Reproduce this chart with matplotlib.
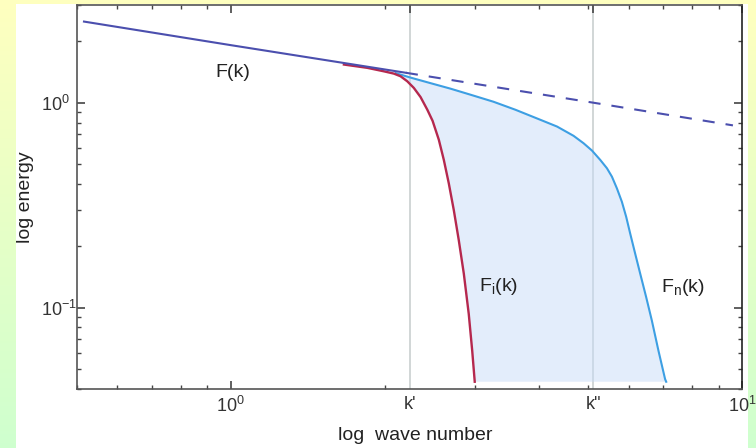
import numpy as np
import matplotlib.pyplot as plt
from matplotlib.patches import Rectangle
from matplotlib.ticker import NullFormatter

plt.rcParams['font.family'] = ['Liberation Sans', 'DejaVu Sans']
plt.rcParams['mathtext.fontset'] = 'custom'
plt.rcParams['mathtext.rm'] = 'Liberation Sans'
plt.rcParams['mathtext.it'] = 'Liberation Sans:italic'
plt.rcParams['mathtext.bf'] = 'Liberation Sans:bold'

# spectrum F(k), solid part and its dashed continuation
F_k = [0.516, 1.0, 2.2]
F_E = [2.49, 1.91, 1.40]
dash_k = [2.2, 5.12, 9.6]
dash_E = [1.40, 1.00, 0.775]

# Fi(k): early cut-off
Fi_k = [1.664, 1.849, 1.993, 2.084, 2.148, 2.214, 2.280, 2.350, 2.423, 2.481,
        2.552, 2.610, 2.669, 2.730, 2.792, 2.856, 2.920, 2.966, 3.00]
Fi_E = [1.536, 1.480, 1.423, 1.387, 1.346, 1.272, 1.181, 1.066, 0.924, 0.816,
        0.659, 0.5255, 0.404, 0.2988, 0.213, 0.1463, 0.0931, 0.0615, 0.0434]

# Fn(k): late cut-off
Fn_k = [2.101, 2.247, 2.458, 2.69, 2.944, 3.264, 3.603, 4.033, 4.346, 4.683,
        4.898, 5.087, 5.281, 5.442, 5.566, 5.692, 5.821, 5.935, 6.043, 6.180,
        6.322, 6.494, 6.662, 6.864, 7.072, 7.107]
Fn_E = [1.395, 1.326, 1.246, 1.171, 1.094, 1.011, 0.924, 0.825, 0.765, 0.689,
        0.634, 0.584, 0.5255, 0.4786, 0.4353, 0.3817, 0.3283, 0.2772, 0.2297,
        0.1833, 0.1463, 0.1124, 0.0864, 0.0615, 0.0447, 0.0434]

k1 = 2.24   # k'
k2 = 5.12   # k''

fig = plt.figure(figsize=(7.56, 4.48), dpi=100)

# gradient background + white panel
bg = fig.add_axes([0, 0, 1, 1], zorder=-2)
t = np.linspace(0, 1, 256)[:, None, None]
top = np.array([1.0, 1.0, 0.75])
bot = np.array([0.81, 1.0, 0.81])
img = top * (1 - t) + bot * t
img = np.repeat(img, 2, axis=1)
bg.imshow(img, aspect='auto', extent=[0, 1, 0, 1], origin='upper')
bg.add_patch(Rectangle((16 / 756, 0), 732 / 756, 444 / 448, facecolor='white',
                       edgecolor='none', transform=bg.transAxes, zorder=2))
bg.set_xlim(0, 1)
bg.set_ylim(0, 1)
bg.axis('off')

ax = fig.add_axes([77 / 756, 1 - 389 / 448, 665 / 756, 384 / 448])
ax.set_facecolor('none')
ax.set_xscale('log')
ax.set_yscale('log')
ax.set_xlim(0.5, 10)
ax.set_ylim(0.04, 3)

# shaded band between the two cut-off curves
fill_k = Fn_k + Fi_k[3:][::-1]
fill_E = Fn_E + Fi_E[3:][::-1]
ax.fill(fill_k, fill_E, facecolor='#c8dcf8', alpha=0.5, edgecolor='none', zorder=2)

ax.axvline(k1, color='#c9cfd0', lw=1.2, zorder=1)
ax.axvline(k2, color='#c9cfd0', lw=1.2, zorder=1)

ax.plot(Fn_k, Fn_E, color='#3d9fe3', lw=1.5, zorder=3)
ax.plot(Fi_k, Fi_E, color='#b5284e', lw=1.7, zorder=4)
ax.plot(dash_k, dash_E, color='#4b4fae', lw=1.5, dashes=(5.8, 5.3), zorder=5)
ax.plot(F_k, F_E, color='#4b4fae', lw=1.5, zorder=5)

ax.text(1.01, 1.40, 'F(k)', ha='center', va='center', fontsize=14, color='#222')
ax.text(3.34, 0.127, r'F$_{\mathregular{i}}$(k)', ha='center', va='center',
        fontsize=14, color='#222')
ax.text(7.67, 0.125, r'F$_{\mathregular{n}}$(k)', ha='center', va='center',
        fontsize=14, color='#222')

ax.set_xticks([1, k1, k2, 10],
              labels=[r'$\mathregular{10^{0}}$', "k'", 'k"', r'$\mathregular{10^{1}}$'])
for tk in ax.xaxis.get_major_ticks()[1:3]:
    tk.tick1line.set_visible(False)
    tk.tick2line.set_visible(False)
ax.set_yticks([0.1, 1], labels=[r'$\mathregular{10^{-1}}$', r'$\mathregular{10^{0}}$'])
ax.xaxis.set_minor_formatter(NullFormatter())
ax.yaxis.set_minor_formatter(NullFormatter())

ax.tick_params(which='both', direction='in', top=True, right=True,
               color='#444', labelcolor='#333', labelsize=13)
ax.tick_params(which='major', length=6, width=1.2)
ax.tick_params(which='minor', length=3, width=1.0)
ax.tick_params(axis='x', pad=5)
ax.tick_params(axis='y', pad=26)
for lab in ax.get_yticklabels():
    lab.set_horizontalalignment('left')

for s in ax.spines.values():
    s.set_color('#555')
    s.set_linewidth(1.2)
ax.spines['right'].set_color('#222')

ax.set_xlabel('log  wave number', fontsize=14, color='#222')
ax.set_ylabel('log energy', fontsize=14, color='#222')
ax.xaxis.set_label_coords(0.509, -0.10)
ax.yaxis.set_label_coords(-0.065, 0.5)

fig.savefig('out.png', dpi=100)
